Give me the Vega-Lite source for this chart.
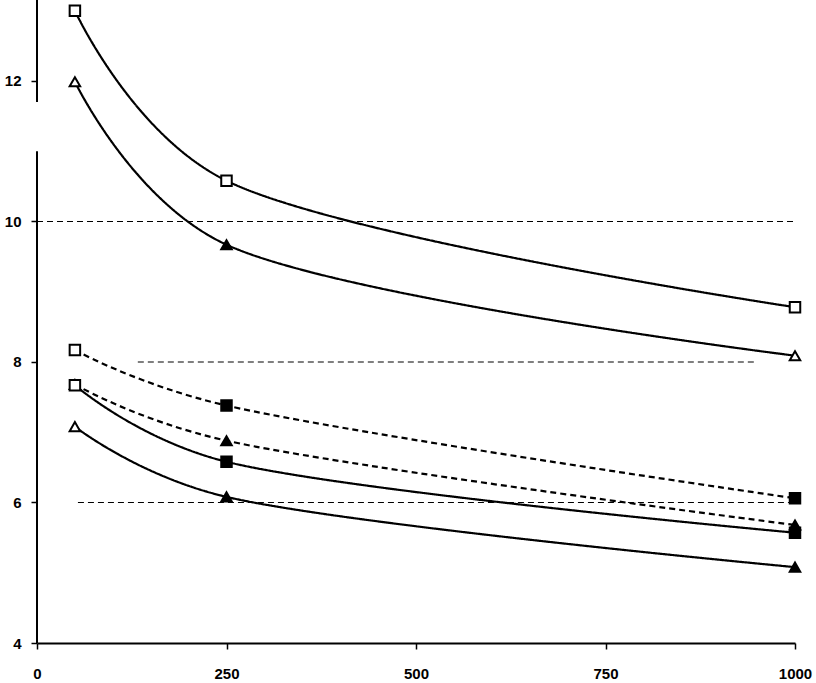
{
  "$schema": "https://vega.github.io/schema/vega-lite/v6.json",
  "width": 758,
  "height": 643,
  "autosize": {"type": "none"},
  "padding": {"left": 37, "top": 0, "right": 21, "bottom": 40},
  "config": {"view": {"stroke": null}, "font": "Liberation Sans"},
  "datasets": {
    "series": [
      {"series": "A", "x": 50, "y": 13.0},
      {"series": "A", "x": 250, "y": 10.58},
      {"series": "A", "x": 1000, "y": 8.78},
      {"series": "B", "x": 50, "y": 11.99},
      {"series": "B", "x": 250, "y": 9.67},
      {"series": "B", "x": 1000, "y": 8.09},
      {"series": "C", "x": 50, "y": 8.17},
      {"series": "C", "x": 250, "y": 7.38},
      {"series": "C", "x": 1000, "y": 6.06},
      {"series": "D", "x": 50, "y": 7.68},
      {"series": "D", "x": 250, "y": 6.88},
      {"series": "D", "x": 1000, "y": 5.68},
      {"series": "E", "x": 50, "y": 7.67},
      {"series": "E", "x": 250, "y": 6.58},
      {"series": "E", "x": 1000, "y": 5.57},
      {"series": "F", "x": 50, "y": 7.08},
      {"series": "F", "x": 250, "y": 6.08},
      {"series": "F", "x": 1000, "y": 5.08}
    ],
    "grid": [
      {"y": 10, "x1": 0, "x2": 1000},
      {"y": 8, "x1": 133, "x2": 947},
      {"y": 6, "x1": 54, "x2": 1000}
    ],
    "yaxis": [
      {"y1": 4, "y2": 11.0},
      {"y1": 11.7, "y2": 13.2}
    ]
  },
  "layer": [
    {
      "data": {"name": "grid"},
      "mark": {"type": "rule", "color": "black", "strokeWidth": 1.2, "strokeDash": [6, 4]},
      "encoding": {
        "y": {"field": "y", "type": "quantitative", "scale": {"domain": [4, 13.153], "nice": false, "zero": false},
          "axis": {"values": [4, 6, 8, 10, 12], "format": "d", "domain": false, "grid": false, "ticks": true, "tickColor": "black", "tickSize": 6, "tickWidth": 1.5, "labelFontSize": 15, "labelColor": "black", "labelPadding": 10, "labelFontWeight": "bold", "title": null}},
        "x": {"field": "x1", "type": "quantitative", "scale": {"domain": [0, 1000], "nice": false},
          "axis": {"values": [0, 250, 500, 750, 1000], "format": "d", "domain": true, "domainColor": "black", "domainWidth": 2, "grid": false, "tickColor": "black", "tickSize": 6, "tickWidth": 1.5, "labelFontSize": 15, "labelColor": "black", "labelPadding": 17, "labelFontWeight": "bold", "labelFlush": false, "title": null}},
        "x2": {"field": "x2"}
      }
    },
    {
      "data": {"name": "yaxis"},
      "mark": {"type": "rule", "color": "black", "strokeWidth": 2, "clip": false},
      "encoding": {
        "x": {"datum": 0, "type": "quantitative"},
        "y": {"field": "y1", "type": "quantitative"},
        "y2": {"field": "y2"}
      }
    },
    {
      "data": {"name": "series"},
      "mark": {"type": "line", "color": "black", "strokeWidth": 2.2, "interpolate": "catmull-rom", "tension": 0.25},
      "encoding": {
        "x": {"field": "x", "type": "quantitative"},
        "y": {"field": "y", "type": "quantitative"},
        "detail": {"field": "series"},
        "strokeDash": {"field": "series", "type": "nominal", "legend": null,
          "scale": {"domain": ["A", "B", "C", "D", "E", "F"], "range": [[1, 0], [1, 0], [6, 4], [6, 4], [1, 0], [1, 0]]}}
      }
    },
    {
      "data": {"name": "series"},
      "mark": {"type": "point", "stroke": "black", "strokeWidth": 2, "size": 110, "opacity": 1},
      "encoding": {
        "x": {"field": "x", "type": "quantitative"},
        "y": {"field": "y", "type": "quantitative"},
        "shape": {"field": "series", "type": "nominal", "legend": null,
          "scale": {"domain": ["A", "B", "C", "D", "E", "F"], "range": ["square", "triangle-up", "square", "triangle-up", "square", "triangle-up"]}},
        "fill": {"condition": {"test": "datum.x == 50 || datum.series == 'A' || (datum.series == 'B' && datum.x == 1000)", "value": "white"}, "value": "black"}
      }
    }
  ]
}
